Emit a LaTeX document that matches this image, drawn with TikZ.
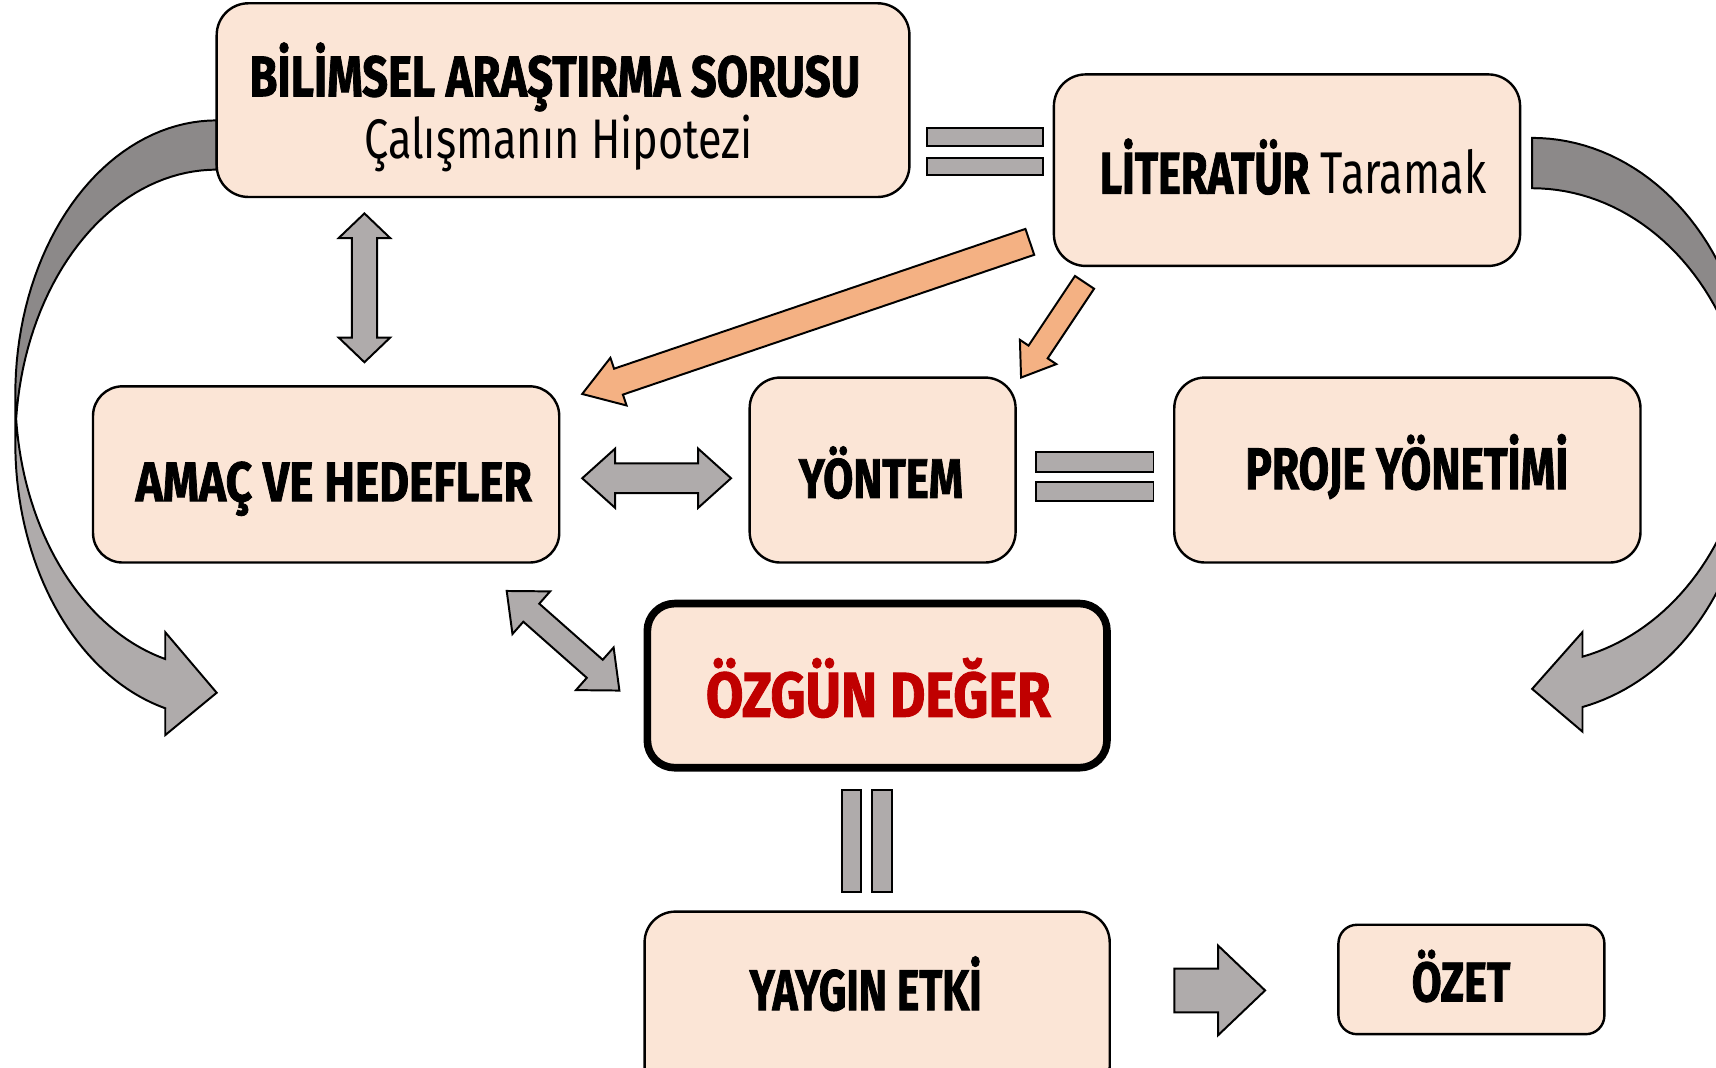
\documentclass[tikz,border=0pt]{standalone}
\usepackage{fontspec}
\setmainfont{Fira Sans}[BoldFeatures={FakeBold=1.6}]
\usetikzlibrary{calc}
\definecolor{boxfill}{HTML}{FBE5D6}
\definecolor{lgray}{HTML}{AFABAB}
\definecolor{dgray}{HTML}{8C8989}
\definecolor{orng}{HTML}{F4B183}
\definecolor{dred}{HTML}{C00000}
\newcommand\fitx[3]{\resizebox{#1mm}{\height}{\fontsize{#2pt}{#2pt}\selectfont #3}}
% single block arrow: style, from, to, half shaft, half head, head length
\newcommand\sarr[6]{%
 \draw[#1] let \p1=($(#3)-(#2)$), \n1={atan2(\y1,\x1)}, \n2={veclen(\x1,\y1)} in
 ($(#2)+(\n1+90:#4)$) --
 ($(#2)+(\n1:{\n2-#6})+(\n1+90:#4)$) --
 ($(#2)+(\n1:{\n2-#6})+(\n1+90:#5)$) --
 (#3) --
 ($(#2)+(\n1:{\n2-#6})+(\n1-90:#5)$) --
 ($(#2)+(\n1:{\n2-#6})+(\n1-90:#4)$) --
 ($(#2)+(\n1-90:#4)$) -- cycle;}
% double block arrow
\newcommand\darr[6]{%
 \draw[#1] let \p1=($(#3)-(#2)$), \n1={atan2(\y1,\x1)}, \n2={veclen(\x1,\y1)} in
 (#2) --
 ($(#2)+(\n1:#6)+(\n1+90:#5)$) --
 ($(#2)+(\n1:#6)+(\n1+90:#4)$) --
 ($(#2)+(\n1:{\n2-#6})+(\n1+90:#4)$) --
 ($(#2)+(\n1:{\n2-#6})+(\n1+90:#5)$) --
 (#3) --
 ($(#2)+(\n1:{\n2-#6})+(\n1-90:#5)$) --
 ($(#2)+(\n1:{\n2-#6})+(\n1-90:#4)$) --
 ($(#2)+(\n1:#6)+(\n1-90:#4)$) --
 ($(#2)+(\n1:#6)+(\n1-90:#5)$) -- cycle;}
\tikzset{
 box/.style={draw=black, fill=boxfill, line width=0.22mm, inner sep=0pt},
 lbl/.style={anchor=base, inner sep=0pt},
 barrow/.style={draw=black, fill=lgray, line width=0.18mm, line join=miter},
 oarrow/.style={draw=black, fill=orng, line width=0.18mm, line join=miter},
 cline/.style={draw=black, line width=0.18mm, line join=miter},
}
\begin{document}
\begin{tikzpicture}[x=0.1mm, y=-0.1mm]
\useasboundingbox (0,0) rectangle (1568,975);
\clip (0,0) rectangle (1568,975);

% ---- curved arrow left
\fill[lgray] plot[domain=180:104.8, samples=40] ({198+184*cos(\x)},{360.25+250.25*sin(\x)})
  -- (151,577.7) -- (198,633) -- (151,671.7) -- (151,647.2)
  -- plot[domain=104.8:180, samples=40] ({198+184*cos(\x)},{405.25+250.25*sin(\x)}) -- cycle;
\fill[dgray] plot[domain=270:185.16, samples=40] ({198+184*cos(\x)},{405.25+250.25*sin(\x)})
  -- plot[domain=174.84:270, samples=40] ({198+184*cos(\x)},{360.25+250.25*sin(\x)}) -- cycle;
\draw[cline] plot[domain=180:104.8, samples=40] ({198+184*cos(\x)},{360.25+250.25*sin(\x)})
  -- (151,577.7) -- (198,633) -- (151,671.7) -- (151,647.2)
  -- plot[domain=104.8:180, samples=40] ({198+184*cos(\x)},{405.25+250.25*sin(\x)})
  -- plot[domain=180:270, samples=40] ({198+184*cos(\x)},{360.25+250.25*sin(\x)})
  -- plot[domain=270:185.16, samples=40] ({198+184*cos(\x)},{405.25+250.25*sin(\x)});

% ---- curved arrow right
\fill[lgray] plot[domain=180:103.3, samples=40] ({1400-200*cos(\x)},{366.25+240.25*sin(\x)})
  -- (1446,577.55) -- (1400,629.5) -- (1446,668.55) -- (1446,646.05)
  -- plot[domain=103.3:180, samples=40] ({1400-200*cos(\x)},{412.25+240.25*sin(\x)}) -- cycle;
\fill[dgray] plot[domain=270:185.49, samples=40] ({1400-200*cos(\x)},{412.25+240.25*sin(\x)})
  -- plot[domain=174.51:270, samples=40] ({1400-200*cos(\x)},{366.25+240.25*sin(\x)}) -- cycle;
\draw[cline] plot[domain=180:103.3, samples=40] ({1400-200*cos(\x)},{366.25+240.25*sin(\x)})
  -- (1446,577.55) -- (1400,629.5) -- (1446,668.55) -- (1446,646.05)
  -- plot[domain=103.3:180, samples=40] ({1400-200*cos(\x)},{412.25+240.25*sin(\x)})
  -- plot[domain=180:270, samples=40] ({1400-200*cos(\x)},{366.25+240.25*sin(\x)})
  -- plot[domain=270:185.49, samples=40] ({1400-200*cos(\x)},{412.25+240.25*sin(\x)});

% ---- boxes
\node[box, minimum width=63.3mm, minimum height=17.7mm, rounded corners=2.9mm] (bil) at (514.5,91.5) {};
\node[box, minimum width=42.6mm, minimum height=17.5mm, rounded corners=2.9mm] (lit) at (1176,155.5) {};
\node[box, minimum width=42.6mm, minimum height=16.1mm, rounded corners=2.7mm] (amac) at (298,433.5) {};
\node[box, minimum width=24.3mm, minimum height=16.9mm, rounded corners=2.8mm] (yontem) at (806.5,429.5) {};
\node[box, minimum width=42.6mm, minimum height=16.9mm, rounded corners=2.8mm] (proje) at (1286,429.5) {};
\node[box, line width=0.7mm, minimum width=42.0mm, minimum height=15.0mm, rounded corners=2.5mm] (ozgun) at (801.5,626.5) {};
\node[box, minimum width=42.5mm, minimum height=17mm, rounded corners=2.8mm] (yaygin) at (801.5,918) {};
\node[box, minimum width=24.3mm, minimum height=10mm, rounded corners=1.7mm] (ozet) at (1344.5,895) {};

% ---- texts
\node[lbl] (bil-t1) at (507,88) {\fitx{55.8}{14.9}{\bfseries BİLİMSEL ARAŞTIRMA SORUSU}};
\node[lbl] (bil-t2) at (510.5,145) {\fitx{35.5}{14.5}{Çalışmanın Hipotezi}};
\node[lbl] (lit-t) at (1181.5,177) {\fitx{35.3}{15.3}{{\bfseries LİTERATÜR} Taramak}};
\node[lbl] (amac-t) at (305,458) {\fitx{36.2}{14.5}{\bfseries AMAÇ VE HEDEFLER}};
\node[lbl] (yontem-t) at (805,455) {\fitx{15.0}{14.5}{\bfseries YÖNTEM}};
\node[lbl] (proje-t) at (1285.5,447) {\fitx{29.5}{15.3}{\bfseries PROJE YÖNETİMİ}};
\node[lbl, text=dred] (ozgun-t) at (802.5,655) {\fitx{31.5}{16.5}{\bfseries ÖZGÜN DEĞER}};
\node[lbl] (yaygin-t) at (791,923) {\fitx{21.2}{14.9}{\bfseries YAYGIN ETKİ}};
\node[lbl] (ozet-t) at (1335,915) {\fitx{9.0}{14.5}{\bfseries ÖZET}};

% ---- equal bars
\draw[barrow] (847,117) rectangle (953,133);
\draw[barrow] (847,144) rectangle (953,160);
\draw[barrow] (947,413) rectangle (1054,431);
\draw[barrow] (947,440) rectangle (1054,458);
\draw[barrow] (769,722) rectangle (787,815);
\draw[barrow] (797,722) rectangle (815,815);

% ---- block arrow end points
\coordinate (v-a) at (333,195);
\coordinate (v-b) at (333,331);
\coordinate (h-a) at (532,437);
\coordinate (h-b) at (668,437);
\coordinate (d-a) at (463,540);
\coordinate (d-b) at (566,631);
\coordinate (o1-a) at (941,221);
\coordinate (o1-b) at (532,360);
\coordinate (o2-a) at (991,258);
\coordinate (o2-b) at (933,345);
\coordinate (r-a) at (1073,905);
\coordinate (r-b) at (1156,905);

\darr{barrow}{v-a}{v-b}{1.15mm}{2.35mm}{2.25mm}
\darr{barrow}{h-a}{h-b}{1.35mm}{2.7mm}{3.0mm}
\darr{barrow}{d-a}{d-b}{1.1mm}{2.6mm}{3.0mm}
\sarr{oarrow}{o1-a}{o1-b}{1.25mm}{2.3mm}{3.5mm}
\sarr{oarrow}{o2-a}{o2-b}{1.05mm}{2.0mm}{2.8mm}
\sarr{barrow}{r-a}{r-b}{2.0mm}{4.1mm}{4.3mm}
\end{tikzpicture}
\end{document}
